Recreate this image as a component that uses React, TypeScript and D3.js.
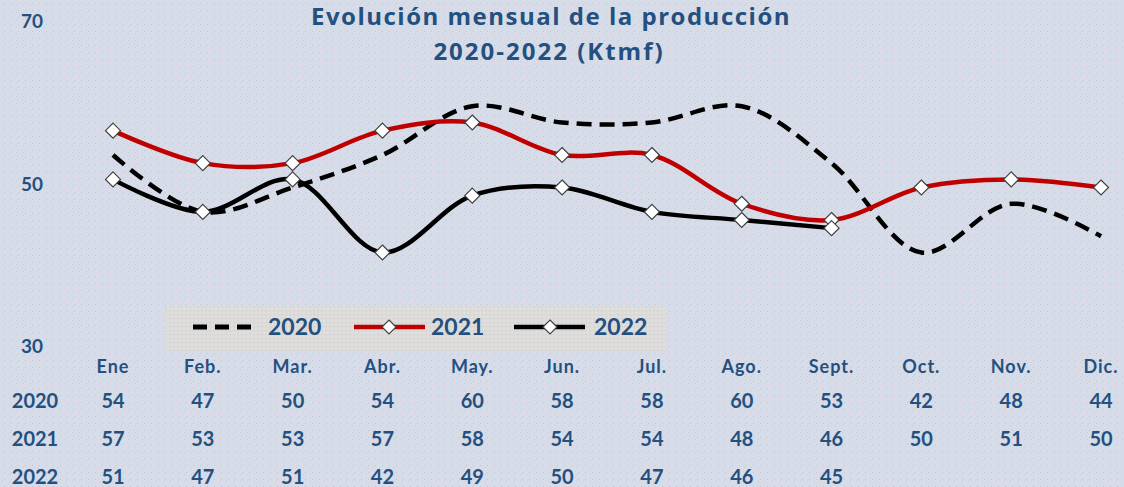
import React from "react";
import * as d3 from "d3";

const months = ["Ene", "Feb.", "Mar.", "Abr.", "May.", "Jun.", "Jul.", "Ago.", "Sept.", "Oct.", "Nov.", "Dic."];
const series2020 = [54, 47, 50, 54, 60, 58, 58, 60, 53, 42, 48, 44];
const series2021 = [57, 53, 53, 57, 58, 54, 54, 48, 46, 50, 51, 50];
const series2022 = [51, 47, 51, 42, 49, 50, 47, 46, 45];
const yTicks = [30, 50, 70];
const titleLines = ["Evolución mensual de la producción", "2020-2022 (Ktmf)"];

const W = 1124;
const H = 487;
const FONT = "Lato, 'Open Sans', sans-serif";
const TITLE_FONT = "'Open Sans', Lato, sans-serif";
const TEXT = "#24507f";

export default function App() {
  const x = d3.scalePoint<string>().domain(months).range([113, 1101]);
  const y = d3.scaleLinear().domain([30, 70]).range([350, 25]);

  const line = d3
    .line<number>()
    .x((_, i) => x(months[i]) as number)
    .y((d) => y(d))
    .curve(d3.curveCatmullRom.alpha(0.5));

  const diamond = (cx: number, cy: number, r = 7.5) =>
    `M${cx},${cy - r}L${cx + r},${cy}L${cx},${cy + r}L${cx - r},${cy}Z`;

  const rows = [
    { label: "2020", data: series2020 },
    { label: "2021", data: series2021 },
    { label: "2022", data: series2022 },
  ];
  const rowY = [408, 446, 484];

  return (
    <svg
      width={W}
      height={H}
      style={{ position: "absolute", left: 0, top: 0, display: "block" }}
      fontFamily={FONT}
    >
      <defs>
        <pattern id="bgdots" width="7" height="7" patternUnits="userSpaceOnUse">
          <rect width="7" height="7" fill="#d6dde8" />
          <rect x="1" y="1" width="1" height="1" fill="#e3cde6" />
          <rect x="4" y="3" width="1" height="1" fill="#bcc6d6" />
          <rect x="2" y="5" width="1" height="1" fill="#c4cddb" />
          <rect x="5" y="6" width="1" height="1" fill="#e6d3ea" />
        </pattern>
        <pattern id="legdots" width="4" height="4" patternUnits="userSpaceOnUse">
          <rect width="4" height="4" fill="#dcdbd9" />
          <rect x="0" y="0" width="1" height="1" fill="#e6e4e2" />
          <rect x="2" y="2" width="1" height="1" fill="#d0cfcf" />
          <rect x="3" y="1" width="1" height="1" fill="#e8e2e6" />
        </pattern>
      </defs>
      <rect width={W} height={H} fill="url(#bgdots)" />

      {/* Title */}
      <text x={551} y={25} textAnchor="middle" fontFamily={TITLE_FONT} fontSize={24} fontWeight={700} fill={TEXT} letterSpacing={1.5}>
        {titleLines[0]}
      </text>
      <text x={549} y={60} textAnchor="middle" fontFamily={TITLE_FONT} fontSize={24} fontWeight={700} fill={TEXT} letterSpacing={2}>
        {titleLines[1]}
      </text>

      {/* Y ticks */}
      {yTicks.map((t) => (
        <text key={t} x={32} y={y(t) + 3} textAnchor="middle" fontSize={19} fontWeight={700} fill={TEXT}>
          {t}
        </text>
      ))}

      {/* Legend box */}
      <rect x={165} y={305} width={500} height={47} fill="url(#legdots)" />
      <g>
        <line x1={193} y1={327} x2={259} y2={327} stroke="#000" strokeWidth={5} strokeDasharray="14 8" />
        <text x={268} y={335} fontSize={23} fontWeight={700} fill={TEXT}>2020</text>
        <line x1={354} y1={327} x2={425} y2={327} stroke="#c00000" strokeWidth={4.5} />
        <path d={diamond(389, 327, 7)} fill="#fff" stroke="#404040" strokeWidth={1.2} />
        <text x={431} y={335} fontSize={23} fontWeight={700} fill={TEXT}>2021</text>
        <line x1={514} y1={327} x2={585} y2={327} stroke="#000" strokeWidth={4.5} />
        <path d={diamond(550, 327, 7)} fill="#fff" stroke="#404040" strokeWidth={1.2} />
        <text x={594} y={335} fontSize={23} fontWeight={700} fill={TEXT}>2022</text>
      </g>

      {/* Lines */}
      <path d={line(series2020) || ""} fill="none" stroke="#000" strokeWidth={4.5} strokeDasharray="15 8" />
      <path d={line(series2021) || ""} fill="none" stroke="#c00000" strokeWidth={4.5} />
      {series2021.map((v, i) => (
        <path key={"m21" + i} d={diamond(x(months[i]) as number, y(v))} fill="#fff" stroke="#404040" strokeWidth={1.2} />
      ))}
      <path d={line(series2022) || ""} fill="none" stroke="#000" strokeWidth={4.5} />
      {series2022.map((v, i) => (
        <path key={"m22" + i} d={diamond(x(months[i]) as number, y(v))} fill="#fff" stroke="#404040" strokeWidth={1.2} />
      ))}

      {/* Table */}
      {months.map((m) => (
        <text key={m} x={x(m) as number} y={373} textAnchor="middle" fontSize={18} fontWeight={700} fill={TEXT} letterSpacing={1}>
          {m}
        </text>
      ))}
      {rows.map((r, ri) => (
        <g key={r.label}>
          <text x={35} y={rowY[ri]} textAnchor="middle" fontSize={20} fontWeight={700} fill={TEXT}>
            {r.label}
          </text>
          {r.data.map((v, i) => (
            <text key={i} x={x(months[i]) as number} y={rowY[ri]} textAnchor="middle" fontSize={20} fontWeight={700} fill={TEXT}>
              {v}
            </text>
          ))}
        </g>
      ))}
    </svg>
  );
}
